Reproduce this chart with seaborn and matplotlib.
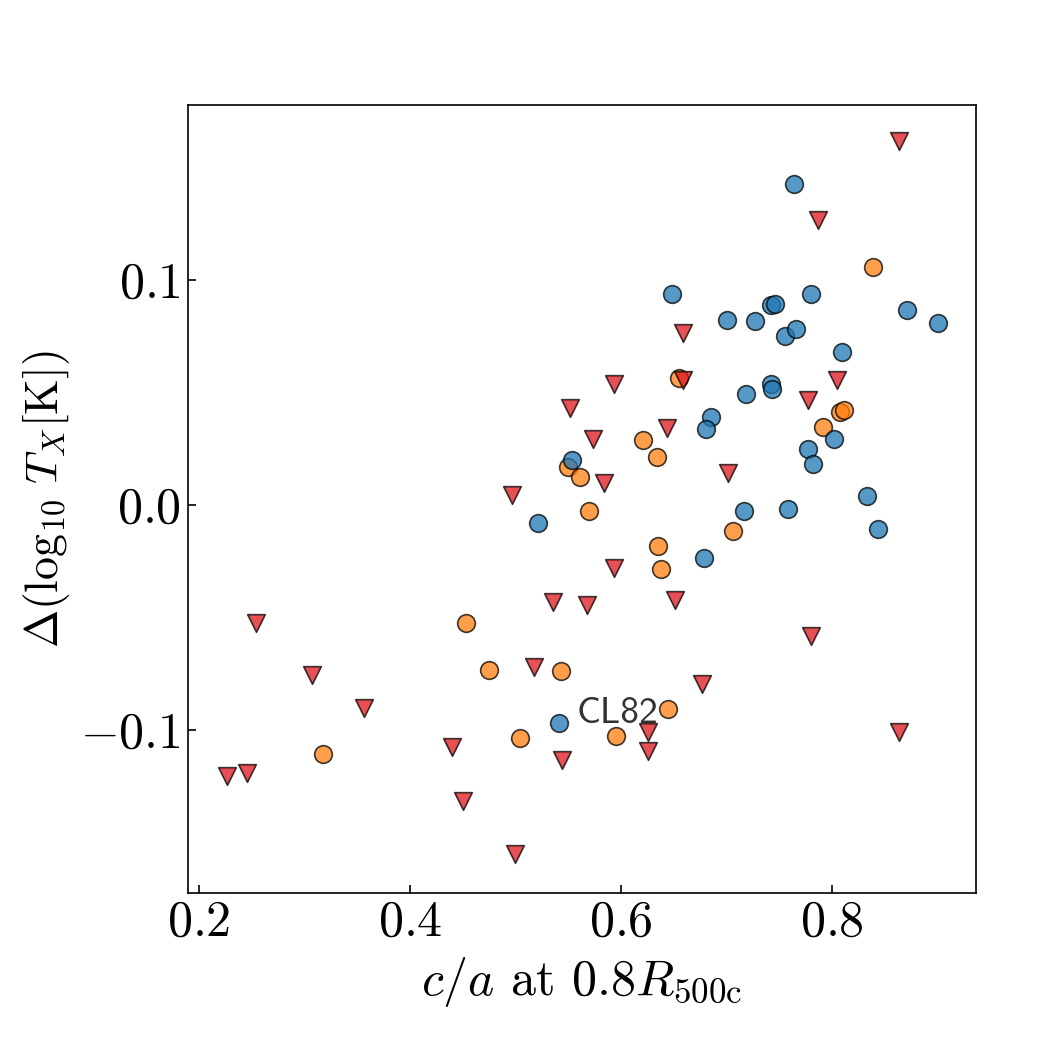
import pandas as pd
import matplotlib
matplotlib.use("Agg")
import matplotlib.pyplot as plt
import seaborn as sns

# ---------------------------------------
# Data: c/a shape vs Delta log10 T_X
# ---------------------------------------
blue_x = [0.6484, 0.7637, 0.7798, 0.7426, 0.7464, 0.7009, 0.7268, 0.7552,
          0.7656, 0.8708, 0.9004, 0.8099, 0.6851, 0.6810, 0.5537, 0.5212,
          0.6784, 0.7189, 0.7426, 0.7432, 0.8023, 0.7776, 0.7817, 0.8329,
          0.8436, 0.7163, 0.7583, 0.5408]
blue_y = [0.0939, 0.1427, 0.0938, 0.0887, 0.0895, 0.0823, 0.0820, 0.0752,
          0.0782, 0.0868, 0.0809, 0.0682, 0.0390, 0.0340, 0.0200, -0.0081,
          -0.0236, 0.0493, 0.0538, 0.0515, 0.0295, 0.0251, 0.0184, 0.0041,
          -0.0108, -0.0027, -0.0018, -0.0969]

orange_x = [0.8389, 0.6548, 0.6207, 0.6339, 0.5493, 0.5613, 0.5695, 0.6351,
            0.6377, 0.8080, 0.8111, 0.7912, 0.7062, 0.4527, 0.4750, 0.5433,
            0.5041, 0.3175, 0.5951, 0.6446]
orange_y = [0.1056, 0.0564, 0.0289, 0.0214, 0.0168, 0.0125, -0.0027, -0.0182,
            -0.0286, 0.0415, 0.0423, 0.0348, -0.0114, -0.0522, -0.0733, -0.0737,
            -0.1034, -0.1105, -0.1027, -0.0905]

red_x = [0.8632, 0.7867, 0.6588, 0.5935, 0.6588, 0.5518, 0.6434, 0.5739,
         0.5840, 0.4963, 0.5938, 0.5351, 0.5679, 0.6513, 0.8047, 0.7773,
         0.7018, 0.7798, 0.2543, 0.3071, 0.5180, 0.3566, 0.4400, 0.5442,
         0.2265, 0.2452, 0.4504, 0.4994, 0.6763, 0.6259, 0.6257, 0.8635]
red_y = [0.1617, 0.1268, 0.0764, 0.0537, 0.0556, 0.0433, 0.0344, 0.0295,
         0.0097, 0.0045, -0.0279, -0.0430, -0.0445, -0.0423, 0.0556, 0.0467,
         0.0144, -0.0583, -0.0526, -0.0753, -0.0720, -0.0900, -0.1076, -0.1135,
         -0.1202, -0.1191, -0.1317, -0.1550, -0.0797, -0.1010, -0.1093, -0.1008]

label_name = "CL82"
label_x, label_y = 0.5408, -0.0969

df_blue = pd.DataFrame({"ca": blue_x, "dT": blue_y})
df_orange = pd.DataFrame({"ca": orange_x, "dT": orange_y})
df_red = pd.DataFrame({"ca": red_x, "dT": red_y})

# ---------------------------------------
# Style
# ---------------------------------------
sns.set_theme(style="ticks")
plt.rcParams["font.family"] = ["cmr10"]
plt.rcParams["mathtext.fontset"] = "cm"
plt.rcParams["axes.formatter.use_mathtext"] = True
plt.rcParams["axes.linewidth"] = 0.8
plt.rcParams["axes.edgecolor"] = "black"

fig = plt.figure(figsize=(7, 7), dpi=150)
ax = fig.add_axes([0.1793, 0.1495, 0.7500, 0.7505])

common = dict(s=72, edgecolor="black", linewidth=0.8, alpha=0.75, ax=ax, legend=False)
sns.scatterplot(data=df_orange, x="ca", y="dT", color="tab:orange", marker="o", **common)
sns.scatterplot(data=df_blue, x="ca", y="dT", color="tab:blue", marker="o", **common)
sns.scatterplot(data=df_red, x="ca", y="dT", color="#e0151c", marker="v", **common)

ax.annotate(label_name, (label_x, label_y), xytext=(8.5, 0), textcoords="offset points",
            va="baseline", ha="left", fontsize=18, family="cmss10", color="#333333")

ax.set_xlim(0.1899, 0.9362)
ax.set_ylim(-0.1724, 0.1778)
ax.set_xticks([0.2, 0.4, 0.6, 0.8])
ax.set_yticks([-0.1, 0.0, 0.1])

ax.tick_params(direction="in", length=3.7, width=0.8, labelsize=24,
               top=False, right=False, colors="black")
ax.set_xlabel(r"$c/a$ at $0.8R_{\rm 500c}$", fontsize=24, color="black")
ax.set_ylabel(r"$\Delta(\log_{10}\,T_X[{\rm K}])$", fontsize=22, color="black")

fig.savefig("out.png", dpi=150)
